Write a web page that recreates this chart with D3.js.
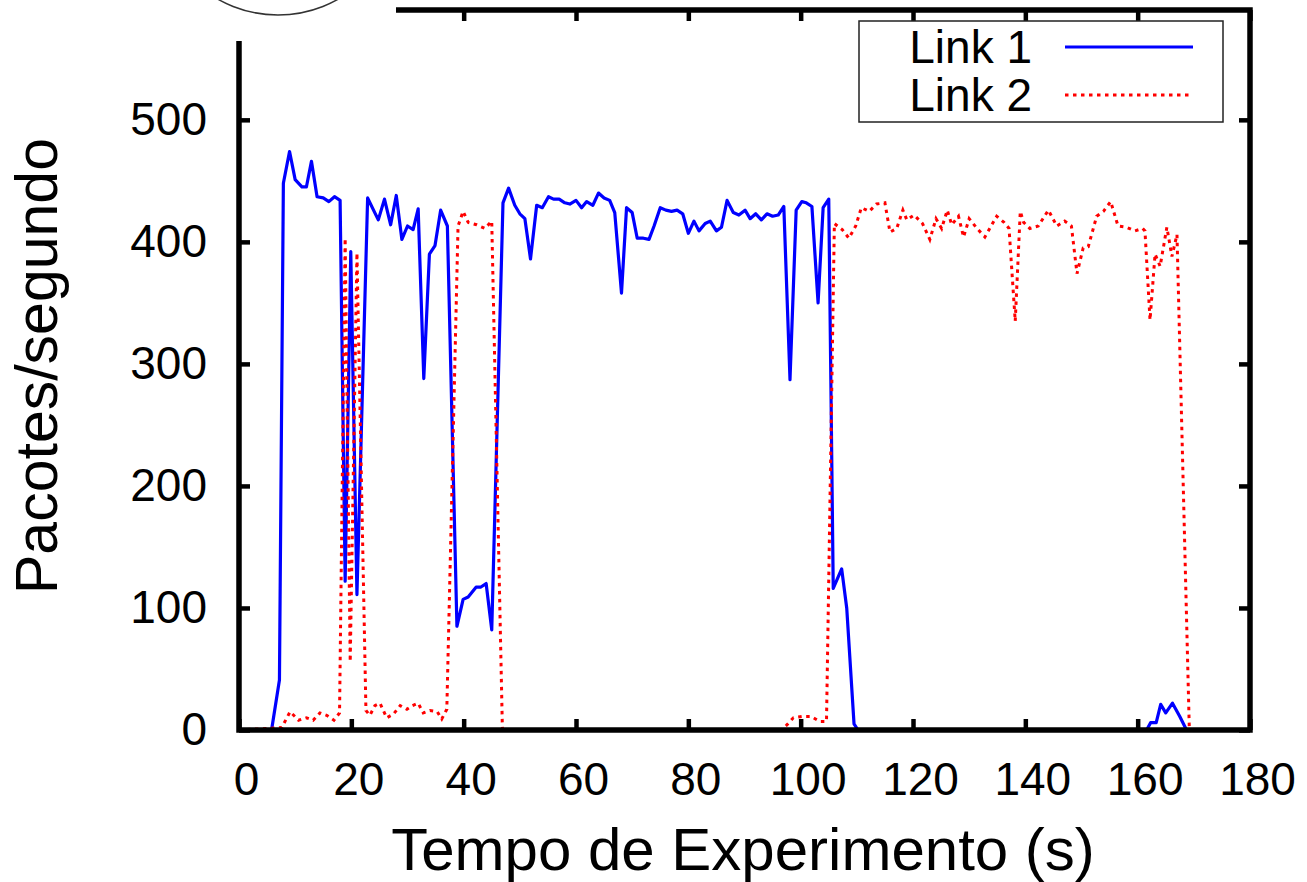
<!DOCTYPE html>
<html>
<head>
<meta charset="utf-8">
<script src="https://cdn.jsdelivr.net/npm/d3@7"></script>
<style>
  html, body { margin: 0; padding: 0; background: #fff; }
  svg text { font-family: "Liberation Sans", Arial, Helvetica, sans-serif; fill: #000; }
</style>
</head>
<body>
<svg id="chart" width="1307" height="882"></svg>
<script>
// values (time in s, packets per second)
const link1Time = [0, 5.8, 7.2, 7.9, 9, 10, 11.2, 12, 12.9, 13.9, 15, 16, 17, 18, 18.9, 19.9, 21, 22.9, 24.8, 25.9,
  27, 28, 29, 30, 31, 31.9, 32.9, 33.9, 34.9, 35.9, 37.1, 38.8, 39.9, 40.8, 42.2, 43, 44, 45, 47, 48,
  49.1, 50, 50.9, 51.9, 53, 54, 55.1, 56, 57, 58, 58.9, 60, 61, 61.9, 63, 64, 65, 66, 66.9, 68.1,
  69, 70, 70.9, 72, 73, 73.9, 75, 76, 77, 78, 79, 80, 81, 81.9, 83, 83.9, 85, 85.9, 86.9, 88,
  89, 90.1, 91, 92, 93, 94, 95, 96, 97, 98.1, 99.2, 100.2, 101, 102, 103.1, 104, 105, 105.8, 107.3, 108.2,
  109.5, 110.2, 161.6, 162.3, 163.3, 164.1, 165, 166.2, 167.5, 168.7];
const link1Rate = [0, 0, 41, 448, 474, 451, 445, 445, 466, 437, 436, 433, 437, 434, 122, 392, 111, 436, 418, 435,
  414, 438, 402, 413, 410, 427, 288, 390, 397, 426, 413, 85, 107, 109, 117, 117, 120, 82, 432, 444,
  430, 423, 419, 386, 430, 428, 437, 435, 435, 432, 431, 434, 428, 433, 430, 440, 436, 434, 424, 358,
  428, 424, 403, 403, 402, 413, 428, 426, 425, 426, 423, 407, 417, 409, 415, 417, 409, 412, 434, 424,
  422, 426, 419, 423, 418, 423, 421, 422, 429, 287, 426, 433, 432, 429, 350, 428, 435, 116, 132, 100,
  5, 0, 0, 6, 6, 21, 14, 22, 11, 0];

const link2Time = [0, 7.6, 9.1, 10.6, 12, 13.2, 14.4, 15.6, 16.9, 17.9, 18.9, 19.8, 21, 22.6, 23.3, 24.2, 25.1, 26.3, 27.5, 28.7,
  29.9, 30.9, 31.9, 32.8, 34, 35.3, 36.1, 37, 39, 39.9, 40.8, 42.3, 43.8, 45, 46.9, 96.5, 97.5, 98.7, 100.2, 101.9,
  103.4, 104.6, 106, 107.4, 108.6, 109.8, 110.8, 112.2, 113.5, 115, 115.9, 117.1, 118.2, 118.9, 120.2, 121.7, 123, 124.1, 125.1, 126.1,
  126.9, 128.1, 129, 130, 131.4, 132.8, 134.9, 136.2, 137.1, 138.2, 139.1, 139.7, 140.8, 142.3, 144.1, 145.6, 147, 148.2, 149.2, 150.3,
  151.2, 152.7, 153.9, 155.2, 156.5, 158, 159.5, 160.9, 161.3, 162.2, 163.1, 164, 165.2, 166.1, 167, 169.2];
const link2Rate = [0, 2, 15, 8, 10, 8, 14, 12, 8, 14, 403, 56, 391, 16, 12, 20, 22, 10, 13, 20,
  17, 20, 22, 14, 16, 15, 9, 17, 413, 425, 416, 414, 411, 417, 0, 0, 4, 10, 11, 11,
  7, 7, 415, 410, 403, 413, 428, 425, 431, 432, 408, 411, 426, 418, 422, 415, 402, 419, 411, 426,
  414, 421, 404, 419, 411, 404, 421, 416, 411, 335, 425, 416, 411, 413, 426, 413, 417, 413, 374, 395,
  396, 421, 425, 433, 413, 412, 409, 411, 409, 336, 390, 380, 412, 388, 406, 0];

const xTicks = [0, 20, 40, 60, 80, 100, 120, 140, 160, 180];
const yTicks = [0, 100, 200, 300, 400, 500];
const seriesNames = ["Link 1", "Link 2"];

const svg = d3.select("#chart");
const plotLeft = 239, plotRight = 1250, plotTop = 10, plotBottom = 730;

const x = d3.scaleLinear().domain([0, 180]).range([plotLeft, plotRight]);
const y = d3.scaleLinear().domain([0, 590]).range([plotBottom, plotTop]);

// axes, ticks pointing inward like gnuplot
const gx = svg.append("g").attr("transform", "translate(0," + plotBottom + ")")
  .call(d3.axisBottom(x).tickValues(xTicks).tickSize(-11).tickPadding(32));
gx.selectAll("text").attr("dx", 7).style("font-size", "46px");

const gy = svg.append("g").attr("transform", "translate(" + plotLeft + ",0)")
  .call(d3.axisLeft(y).tickValues(yTicks).tickSize(-11).tickPadding(32));
gy.selectAll("text").style("font-size", "46px");

svg.append("g").attr("transform", "translate(0," + plotTop + ")")
  .call(d3.axisTop(x).tickValues(xTicks).tickSize(-11).tickFormat(""));
svg.append("g").attr("transform", "translate(" + plotRight + ",0)")
  .call(d3.axisRight(y).tickValues(yTicks).tickSize(-11).tickFormat(""));

svg.selectAll(".domain").remove();
svg.selectAll(".tick line").attr("stroke", "#000").attr("stroke-width", 4.5);

// lines
const line = d3.line().x(d => x(d[0])).y(d => y(d[1]));
const link1 = link1Time.map((t, i) => [t, link1Rate[i]]);
const link2 = link2Time.map((t, i) => [t, link2Rate[i]]);

svg.append("path").datum(link1)
  .attr("d", line)
  .attr("fill", "none")
  .attr("stroke", "#0000ff")
  .attr("stroke-width", 3.2)
  .attr("stroke-linejoin", "round");

svg.append("path").datum(link2)
  .attr("d", line)
  .attr("fill", "none")
  .attr("stroke", "#ff0000")
  .attr("stroke-width", 3)
  .attr("stroke-dasharray", "3.5,4.5");

// frame
svg.append("rect")
  .attr("x", plotLeft).attr("y", plotTop)
  .attr("width", plotRight - plotLeft).attr("height", plotBottom - plotTop)
  .attr("fill", "none").attr("stroke", "#000").attr("stroke-width", 5.5);

// top-left corner is covered in the source figure
svg.append("rect").attr("x", 0).attr("y", 0).attr("width", 396).attr("height", 41).attr("fill", "#fff");
svg.append("circle").attr("cx", 278).attr("cy", -107).attr("r", 122)
  .attr("fill", "none").attr("stroke", "#333").attr("stroke-width", 1.5);

// axis titles
svg.append("text")
  .attr("x", 743).attr("y", 870)
  .attr("text-anchor", "middle")
  .style("font-size", "60px")
  .text("Tempo de Experimento (s)");

svg.append("text")
  .attr("transform", "translate(57,366) rotate(-90)")
  .attr("text-anchor", "middle")
  .style("font-size", "59px")
  .text("Pacotes/segundo");

// legend
const legend = svg.append("g");
legend.append("rect")
  .attr("x", 859).attr("y", 21).attr("width", 364).attr("height", 101)
  .attr("fill", "#fff").attr("stroke", "#222").attr("stroke-width", 1.5);

const legendY = [47, 95];
seriesNames.forEach((name, i) => {
  legend.append("text")
    .attr("x", 1032).attr("y", legendY[i] + 16)
    .attr("text-anchor", "end")
    .style("font-size", "46px")
    .text(name);
  legend.append("line")
    .attr("x1", 1065).attr("x2", 1193)
    .attr("y1", legendY[i]).attr("y2", legendY[i])
    .attr("stroke", i === 0 ? "#0000ff" : "#ff0000")
    .attr("stroke-width", 3)
    .attr("stroke-dasharray", i === 0 ? null : "3.5,4.5");
});
</script>
</body>
</html>
